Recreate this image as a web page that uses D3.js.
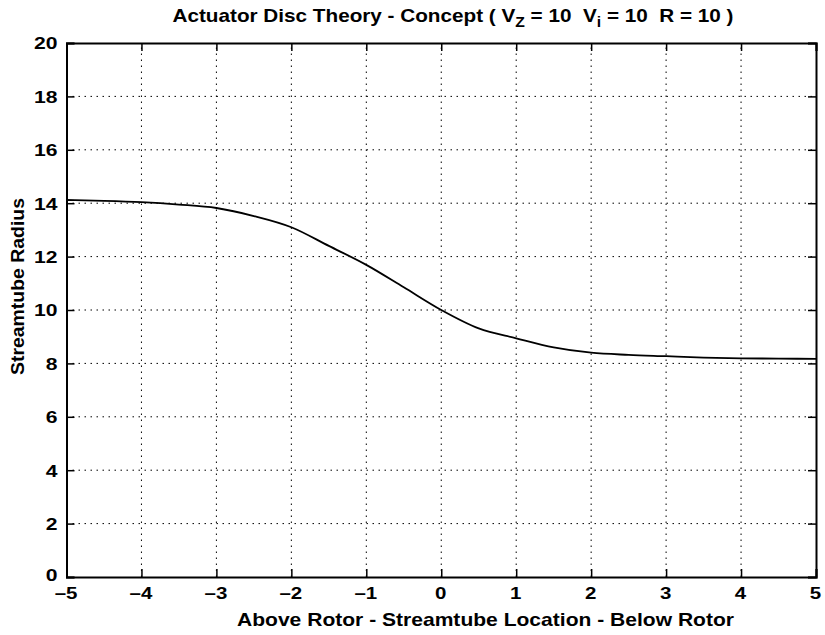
<!DOCTYPE html>
<html><head><meta charset="utf-8">
<script src="https://cdn.jsdelivr.net/npm/d3@7"></script>
<style>
html,body{margin:0;padding:0;background:#fff;}
text{font-family:"Liberation Sans",Arial,Helvetica,sans-serif;font-weight:bold;fill:#000;}
</style></head>
<body>
<script>
const locations = [-5,-4.5,-4,-3.5,-3,-2.5,-2,-1.5,-1,-0.5,0,0.5,1,1.5,2,2.5,3,3.5,4,4.5,5];
const radius = [14.12,14.09,14.04,13.95,13.82,13.52,13.10,12.40,11.69,10.85,10.0,9.31,8.94,8.60,8.40,8.32,8.27,8.22,8.19,8.18,8.17];
const xTicks = [-5,-4,-3,-2,-1,0,1,2,3,4,5];
const xTickLabels = ["\u20135","\u20134","\u20133","\u20132","\u20131","0","1","2","3","4","5"];
const yTicks = [0,2,4,6,8,10,12,14,16,18,20];
const yTickLabels = ["0","2","4","6","8","10","12","14","16","18","20"];

const W = 825, H = 635;
const m = {left:66.5, right:825-816, top:43, bottom:635-577};
const svg = d3.select("body").append("svg").attr("width",W).attr("height",H);
const x = d3.scaleLinear().domain([-5,5]).range([m.left, W-m.right]);
const y = d3.scaleLinear().domain([0,20]).range([H-m.bottom, m.top]);

const g = svg.append("g");
// grid
g.selectAll(".gx").data(xTicks.slice(1,-1)).join("line")
 .attr("x1",d=>x(d)).attr("x2",d=>x(d)).attr("y1",y(0)).attr("y2",y(20))
 .attr("stroke","#000").attr("stroke-width",1).attr("stroke-dasharray","1.5,4.5");
g.selectAll(".gy").data(yTicks.slice(1,-1)).join("line")
 .attr("y1",d=>y(d)).attr("y2",d=>y(d)).attr("x1",x(-5)).attr("x2",x(5))
 .attr("stroke","#000").attr("stroke-width",1).attr("stroke-dasharray","1.5,4.5");

// axes (frame + inward ticks)
const tl = 8;
const ax = g.append("g").attr("transform",`translate(0,${y(0)})`)
 .call(d3.axisBottom(x).tickValues(xTicks).tickSize(-tl).tickFormat(""));
const ay = g.append("g").attr("transform",`translate(${x(-5)},0)`)
 .call(d3.axisLeft(y).tickValues(yTicks).tickSize(-tl).tickFormat(""));
const at = g.append("g").attr("transform",`translate(0,${y(20)})`)
 .call(d3.axisTop(x).tickValues(xTicks).tickSize(-tl).tickFormat(""));
const ar = g.append("g").attr("transform",`translate(${x(5)},0)`)
 .call(d3.axisRight(y).tickValues(yTicks).tickSize(-tl).tickFormat(""));
[ax,ay,at,ar].forEach(a=>{
  a.select(".domain").attr("stroke","#000").attr("stroke-width",2);
  a.selectAll(".tick line").attr("stroke","#000").attr("stroke-width",1.5);
});

// tick labels (horizontally widened like the reference)
const sx = 1.28;
ax.selectAll(".tick").append("text")
 .attr("transform",(d,i)=>`translate(-1,22) scale(${sx},1)`)
 .attr("text-anchor","middle").style("font-size","16px")
 .text((d,i)=>xTickLabels[i]);
ay.selectAll(".tick").append("text")
 .attr("transform",(d,i)=>`translate(-9,${d===0?3.7:5.8}) scale(${sx},1)`)
 .attr("text-anchor","end").style("font-size","16.5px")
 .text((d,i)=>yTickLabels[i]);

// curve
const line = d3.line().x((d,i)=>x(locations[i])).y(d=>y(d)).curve(d3.curveMonotoneX);
g.append("path").datum(radius).attr("d",line).attr("fill","none")
 .attr("stroke","#000").attr("stroke-width",1.8);

// title
const t = svg.append("text").attr("x",172.5).attr("y",22)
 .style("font-size","18.5px").attr("xml:space","preserve").style("white-space","pre")
 .attr("textLength",561).attr("lengthAdjust","spacingAndGlyphs");
t.append("tspan").text("Actuator Disc Theory - Concept ( V");
t.append("tspan").text("Z").attr("dy",4.5).style("font-size","14px");
t.append("tspan").text(" = 10  V").attr("dy",-4.5);
t.append("tspan").text("i").attr("dy",4.5).style("font-size","14px");
t.append("tspan").text(" = 10  R = 10 )").attr("dy",-4.5);

svg.append("text").attr("x",237).attr("y",626)
 .style("font-size","19px").attr("textLength",497).attr("lengthAdjust","spacingAndGlyphs")
 .text("Above Rotor - Streamtube Location - Below Rotor");
svg.append("text").attr("transform","translate(24,375) rotate(-90)")
 .style("font-size","19px").attr("textLength",177).attr("lengthAdjust","spacingAndGlyphs")
 .text("Streamtube Radius");
</script>
</body></html>
